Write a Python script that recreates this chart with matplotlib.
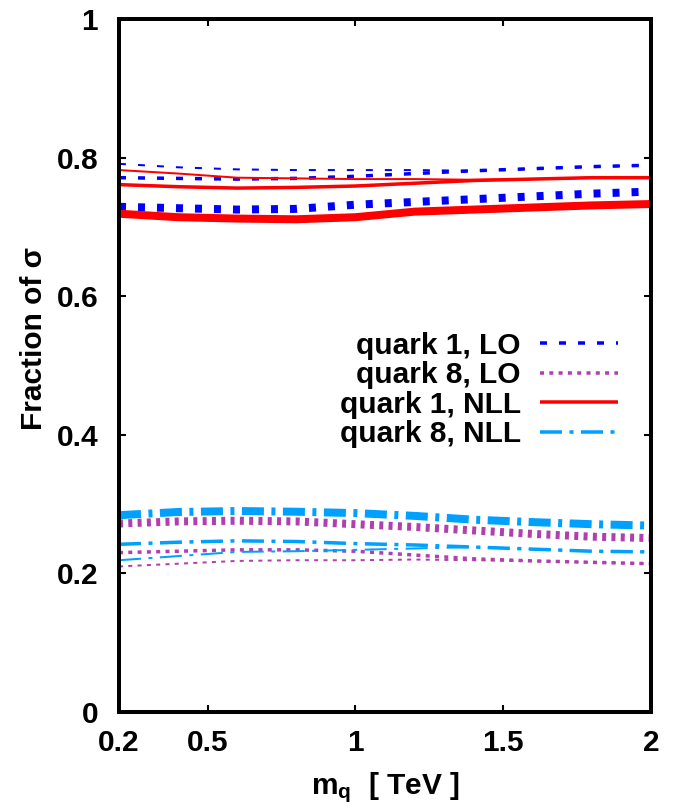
import matplotlib
matplotlib.use("Agg")
import matplotlib.pyplot as plt
from matplotlib.lines import Line2D

plt.rcParams['font.family'] = ['Liberation Sans', 'DejaVu Sans']
plt.rcParams['font.weight'] = 'bold'
plt.rcParams['mathtext.fontset'] = 'custom'
plt.rcParams['mathtext.rm'] = 'Liberation Sans:bold'
plt.rcParams['mathtext.it'] = 'Liberation Sans:bold'
plt.rcParams['mathtext.bf'] = 'Liberation Sans:bold'

# ---- data (x in TeV) ----
mq = [0.2, 0.4, 0.6, 0.8, 1.0, 1.2, 1.4, 1.6, 1.8, 2.0]

# three variants per series: thin (a), medium (b), thick (c)
q1_lo_a = [0.791, 0.786, 0.783, 0.782, 0.782, 0.782, 0.781, 0.784, 0.787, 0.789]
q1_lo_b = [0.771, 0.770, 0.769, 0.770, 0.773, 0.777, 0.781, 0.784, 0.787, 0.789]
q1_lo_c = [0.729, 0.727, 0.725, 0.726, 0.732, 0.736, 0.740, 0.744, 0.748, 0.751]

q1_nll_a = [0.782, 0.777, 0.771, 0.770, 0.769, 0.769, 0.768, 0.769, 0.771, 0.771]
q1_nll_b = [0.761, 0.758, 0.756, 0.757, 0.759, 0.763, 0.767, 0.769, 0.771, 0.771]
q1_nll_c = [0.719, 0.714, 0.712, 0.711, 0.714, 0.722, 0.725, 0.728, 0.731, 0.733]

q8_lo_a = [0.210, 0.214, 0.218, 0.219, 0.219, 0.220, 0.219, 0.218, 0.216, 0.214]
q8_lo_b = [0.230, 0.232, 0.234, 0.234, 0.232, 0.2265, 0.221, 0.218, 0.216, 0.214]
q8_lo_c = [0.272, 0.275, 0.276, 0.275, 0.271, 0.267, 0.262, 0.257, 0.253, 0.251]

q8_nll_a = [0.219, 0.225, 0.231, 0.232, 0.234, 0.236, 0.238, 0.235, 0.232, 0.231]
q8_nll_b = [0.242, 0.245, 0.247, 0.246, 0.243, 0.241, 0.238, 0.235, 0.232, 0.231]
q8_nll_c = [0.284, 0.2886, 0.290, 0.289, 0.287, 0.283, 0.2775, 0.274, 0.271, 0.269]

labels = ["quark 1, LO", "quark 8, LO", "quark 1, NLL", "quark 8, NLL"]
xticks = [0.2, 0.5, 1, 1.5, 2]
xticklabels = ["0.2", "0.5", "1", "1.5", "2"]
yticks = [0, 0.2, 0.4, 0.6, 0.8, 1]
yticklabels = ["0", "0.2", "0.4", "0.6", "0.8", "1"]

c_blue = '#0000ff'
c_purple = '#b040b0'
c_red = '#ff0000'
c_cyan = '#00a0ff'

PX = 0.72  # points per pixel at dpi=100
widths = {'a': 2.0 * PX, 'b': 3.5 * PX, 'c': 8.0 * PX}


def pattern(kind, lw):
    if kind == 'dash':
        return (0, (7 * PX / lw, 12 * PX / lw))
    if kind == 'dot':
        return (0, (4 * PX / lw, 5.3 * PX / lw))
    if kind == 'dashdot':
        return (0, (22 * PX / lw, 7.5 * PX / lw, 4 * PX / lw, 7.5 * PX / lw))
    return '-'


fig = plt.figure(figsize=(6.73, 8.09), dpi=100)
ax = fig.add_axes([119 / 673, 97 / 809, 532 / 673, 693 / 809])

series = [
    (q1_lo_a, q1_lo_b, q1_lo_c, c_blue, 'dash'),
    (q8_lo_a, q8_lo_b, q8_lo_c, c_purple, 'dot'),
    (q1_nll_a, q1_nll_b, q1_nll_c, c_red, 'solid'),
    (q8_nll_a, q8_nll_b, q8_nll_c, c_cyan, 'dashdot'),
]
for ya, yb, yc, col, kind in series:
    for y, key in ((ya, 'a'), (yb, 'b'), (yc, 'c')):
        lw = widths[key]
        ax.plot(mq, y, color=col, lw=lw, linestyle=pattern(kind, lw),
                dash_capstyle='butt', solid_capstyle='butt')

handles = []
for (ya, yb, yc, col, kind), lab in zip(series, labels):
    lw = widths['b']
    handles.append(Line2D([], [], color=col, lw=lw, linestyle=pattern(kind, lw),
                          dash_capstyle='butt', solid_capstyle='butt'))

fs = 21.5
leg = ax.legend(handles, labels, loc='center right',
                bbox_to_anchor=((618 - 119) / 532, (712 - 390) / 693),
                frameon=False, markerfirst=False, handlelength=2.6,
                handletextpad=0.65, labelspacing=0.055, borderpad=0,
                borderaxespad=0, prop={'size': fs, 'weight': 'bold'})

ax.set_xlim(0.2, 2)
ax.set_ylim(0, 1)
ax.set_xticks(xticks)
ax.set_xticklabels(xticklabels)
ax.set_yticks(yticks)
ax.set_yticklabels(yticklabels)
ax.tick_params(direction='in', length=5, width=1.5, top=True, right=True,
               labelsize=fs, pad=12)
ax.tick_params(axis='y', pad=15)
for s in ax.spines.values():
    s.set_linewidth(4 * PX)

ax.set_ylabel("Fraction of σ", fontsize=fs, fontweight='bold')
ax.yaxis.set_label_coords(-0.133, (712 - 338) / 693)
ax.set_xlabel(r"$\mathrm{m_q}$  [ TeV ]", fontsize=fs, fontweight='bold', labelpad=10)

fig.savefig("out.png", dpi=100)
